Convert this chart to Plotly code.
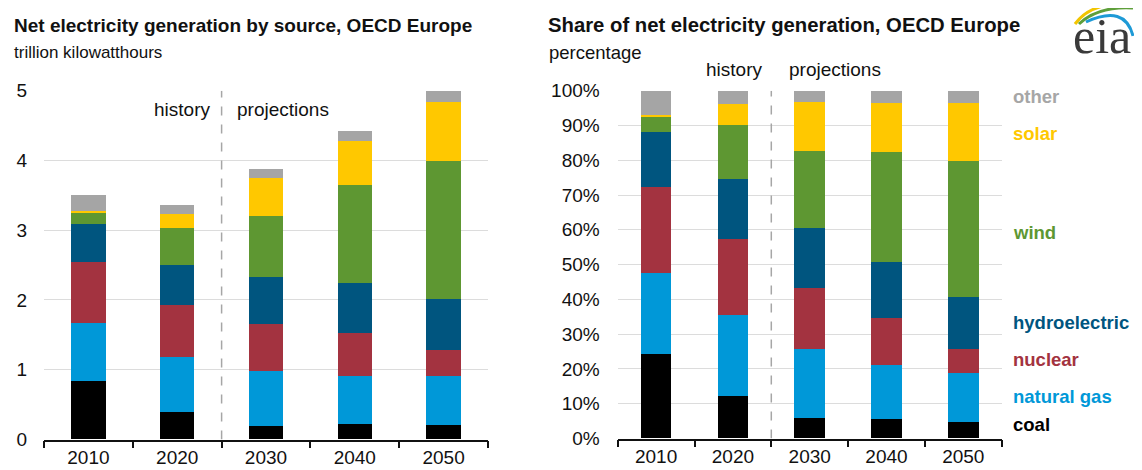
import plotly.graph_objects as go

# page body has an 8px margin; figure is sized to fill the rest of the window
OFF = 8
W, H = 1142 - OFF, 470 - OFF

years = ["2010", "2020", "2030", "2040", "2050"]
sources = ["coal", "natural gas", "nuclear", "hydroelectric", "wind", "solar", "other"]
colors = ["#000000", "#0098d8", "#a33340", "#00557f", "#5e9732", "#ffc800", "#a5a5a5"]
label_colors = ["#000000", "#0098d8", "#a33340", "#00557f", "#5e9732", "#ffc800", "#a6a6a6"]

# trillion kilowatthours
gen_coal = [0.84, 0.39, 0.20, 0.22, 0.21]
gen_gas = [0.825, 0.79, 0.78, 0.695, 0.705]
gen_nuclear = [0.875, 0.75, 0.68, 0.615, 0.365]
gen_hydro = [0.55, 0.57, 0.67, 0.71, 0.74]
gen_wind = [0.15, 0.53, 0.87, 1.415, 1.975]
gen_solar = [0.03, 0.205, 0.55, 0.625, 0.845]
gen_other = [0.24, 0.125, 0.125, 0.145, 0.16]

# percentage share
sh_coal = [24.3, 12.2, 5.75, 5.55, 4.6]
sh_gas = [23.3, 23.4, 20.05, 15.55, 14.1]
sh_nuclear = [24.7, 21.9, 17.4, 13.6, 7.0]
sh_hydro = [15.8, 17.0, 17.4, 16.0, 14.9]
sh_wind = [4.2, 15.7, 22.1, 31.8, 39.3]
sh_solar = [0.8, 6.0, 14.1, 14.1, 16.7]
sh_other = [6.9, 3.8, 3.2, 3.4, 3.4]

gen = [gen_coal, gen_gas, gen_nuclear, gen_hydro, gen_wind, gen_solar, gen_other]
share = [sh_coal, sh_gas, sh_nuclear, sh_hydro, sh_wind, sh_solar, sh_other]

# label vertical positions (pixels) for the right-hand labels
label_y_px = [424, 396, 359, 322, 232, 134, 97]

FONT = "Liberation Sans, Arial, sans-serif"


def px_x(x):
    return (x - OFF) / W


def px_y(y):
    return 1 - (y - OFF) / H


fig = go.Figure()
for name, col, vals in zip(sources, colors, gen):
    fig.add_trace(go.Bar(x=years, y=vals, name=name, marker=dict(color=col, line=dict(width=0)),
                         width=0.386, xaxis="x", yaxis="y", showlegend=False))
for name, col, vals in zip(sources, colors, share):
    fig.add_trace(go.Bar(x=years, y=vals, name=name, marker=dict(color=col, line=dict(width=0)),
                         width=0.40, xaxis="x2", yaxis="y2", showlegend=False))

grid = "#dcdcdc"
xcommon = dict(type="category", showline=True, linecolor="#111111", linewidth=1.5,
               ticks="outside", tickson="boundaries", ticklen=7, tickcolor="#111111", tickwidth=1.5,
               showgrid=False, automargin=False, ticklabelstandoff=0,
               tickfont=dict(family=FONT, size=19, color="#111111"))
ycommon = dict(showgrid=True, gridcolor=grid, gridwidth=1, zeroline=False, showline=False,
               ticks="", automargin=False, tickfont=dict(family=FONT, size=19, color="#111111"))

fig.update_layout(
    template="none",
    width=W, height=H,
    margin=dict(l=0, r=0, t=0, b=0, pad=0, autoexpand=False),
    paper_bgcolor="white", plot_bgcolor="white",
    barmode="stack",
    xaxis=dict(domain=[px_x(44), px_x(488)], anchor="y", **xcommon),
    yaxis=dict(domain=[px_y(439.5), px_y(90.7)], anchor="x", range=[0, 5], dtick=1,
               ticklabelstandoff=16, **ycommon),
    xaxis2=dict(domain=[px_x(617.7), px_x(1001.7)], anchor="y2", **xcommon),
    yaxis2=dict(domain=[px_y(438.5), px_y(90.7)], anchor="x2", range=[0, 100], dtick=10,
                ticksuffix="%", ticklabelstandoff=17, **ycommon),
)

# dashed history / projections dividers
fig.add_shape(type="line", xref="x", yref="y", x0=1.5, x1=1.5, y0=0, y1=5,
              line=dict(color="#a6a6a6", width=1.5, dash="dash"))
fig.add_shape(type="line", xref="x2", yref="y2", x0=1.5, x1=1.5, y0=0, y1=100,
              line=dict(color="#a6a6a6", width=1.5, dash="dash"))

ann = []


def text(x, y, s, size, color="#111111", bold=False, xanchor="left", family=FONT):
    if bold:
        s = "<b>" + s + "</b>"
    ann.append(dict(x=px_x(x), y=px_y(y), xref="paper", yref="paper", text=s, showarrow=False,
                    xanchor=xanchor, yanchor="middle", font=dict(family=family, size=size, color=color)))


text(12, 25, "Net electricity generation by source, OECD Europe", 19, bold=True)
text(12, 53, "trillion kilowatthours", 17)
text(546, 25, "Share of net electricity generation, OECD Europe", 20.3, bold=True)
text(547, 53, "percentage", 18.5)
text(212, 110, "history", 19, xanchor="right")
text(235, 110, "projections", 19)
text(704, 69, "history", 19)
text(787, 69, "projections", 19)

for name, col, yy in zip(sources, label_colors, label_y_px):
    text(1011, yy, name, 18.5, color=col, bold=True)

# eia logo
text(1102, 36, "eia", 50, color="#3a3a3a", xanchor="center", family="Liberation Serif, Times New Roman, serif")


def path(pts):
    (x0, y0), (cx, cy), (x1, y1) = pts
    return "M {:.5f},{:.5f} Q {:.5f},{:.5f} {:.5f},{:.5f}".format(
        px_x(x0), px_y(y0), px_x(cx), px_y(cy), px_x(x1), px_y(y1))


fig.add_shape(type="path", xref="paper", yref="paper", path=path([(1075, 24), (1088, 6), (1116, 4)]),
              line=dict(color="#f2c500", width=3))
fig.add_shape(type="path", xref="paper", yref="paper", path=path([(1079, 24), (1098, 6), (1133, 8)]),
              line=dict(color="#5e9f3a", width=3))
fig.add_shape(type="path", xref="paper", yref="paper", path=path([(1086, 22), (1125, 4), (1133, 36)]),
              line=dict(color="#1e9ad6", width=3))

fig.update_layout(annotations=ann)
fig.write_html("out.html")
